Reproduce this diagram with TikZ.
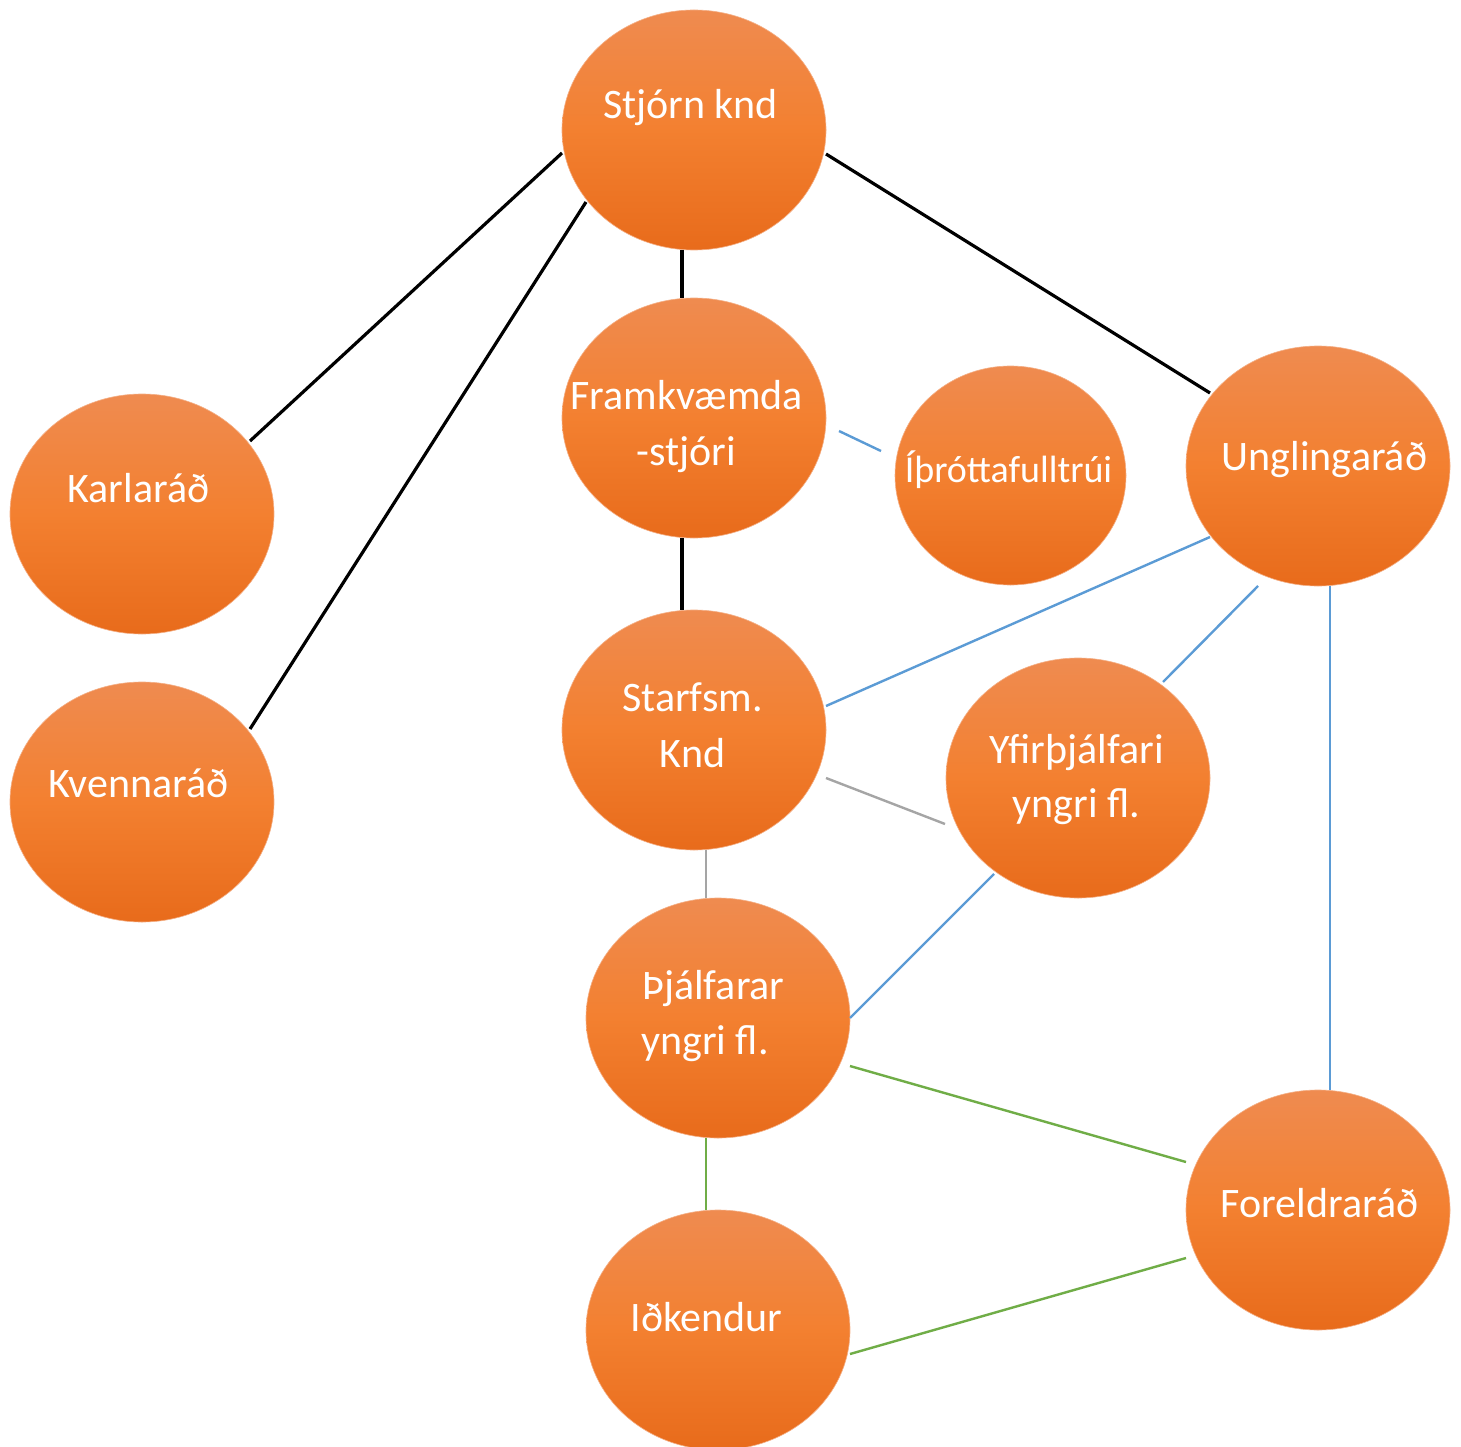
\documentclass[tikz,border=0pt]{standalone}
\usepackage{fontspec}
\setmainfont{Carlito}
\usetikzlibrary{calc,shapes.geometric}
\definecolor{otop}{RGB}{239,139,80}
\definecolor{omid}{RGB}{243,128,48}
\definecolor{obot}{RGB}{232,107,27}
\definecolor{lblue}{RGB}{91,155,213}
\definecolor{lgray}{RGB}{165,165,165}
\definecolor{lgreen}{RGB}{112,173,71}
\begin{document}
\begin{tikzpicture}[x=1pt,y=-1pt,
  bub/.style={ellipse, minimum width=264pt, minimum height=240pt, inner sep=0pt,
    top color=otop, bottom color=obot, middle color=omid, draw=otop!70!white, line width=0.6pt},
  smallbub/.style={minimum width=231pt, minimum height=219pt},
  txt/.style={anchor=base, text=white, font=\fontsize{42}{50}\selectfont, inner sep=0pt},
  blk/.style={line width=3.2pt, black},
  bl/.style={line width=2.4pt, lblue},
  gr/.style={line width=2.4pt, lgray},
  gn/.style={line width=2.4pt, lgreen}]
\useasboundingbox[fill=white] (0,0) rectangle (1461,1447);

% ellipses
\node[bub] (stjorn) at (694,130) {};
\node[bub] (framkv) at (694,418) {};
\node[bub,smallbub] (ithrott) at (1010.5,475.5) {};
\node[bub] (ungl) at (1318,466) {};
\node[bub] (karl) at (142,514) {};
\node[bub] (kvenna) at (142,802) {};
\node[bub] (starfsm) at (694,730) {};
\node[bub] (yfir) at (1078,778) {};
\node[bub] (thjalf) at (718,1018) {};
\node[bub] (foreldra) at (1318,1210) {};
\node[bub] (idk) at (718,1330) {};

% texts
\node[txt] (t1) at (690.5,119) {Stjórn knd};
\node[txt] (t2a) at (686.5,409) {Framkvæmda};
\node[txt] (t2b) at (686.5,465) {-stjóri};
\node[txt, font=\fontsize{38}{46}\selectfont] (t3) at (1008.5,482) {Íþróttafulltrúi};
\node[txt] (t4) at (1324.5,470) {Unglingaráð};
\node[txt] (t5) at (138.5,502) {Karlaráð};
\node[txt] (t6) at (138.5,797) {Kvennaráð};
\node[txt] (t7a) at (692.5,711) {Starfsm.};
\node[txt] (t7b) at (692.5,767) {Knd};
\node[txt] (t8a) at (1076.5,763) {Yfirþjálfari};
\node[txt] (t8b) at (1076.5,817) {yngri fl.};
\node[txt] (t9a) at (713.5,999) {Þjálfarar};
\node[txt] (t9b) at (705,1054) {yngri fl.};
\node[txt] (t10) at (1319.5,1217) {Foreldraráð};
\node[txt] (t11) at (706.5,1331) {Iðkendur};

% connectors
\draw[blk] ($(stjorn)+(-132,23)$) -- ($(karl)+(108,-73)$);
\draw[blk] ($(stjorn)+(-108,72)$) -- ($(kvenna)+(108,-73)$);
\draw[blk] ($(stjorn)+(-12,120)$) -- ($(framkv)+(-12,-120)$);
\draw[blk] ($(stjorn)+(132,24)$) -- ($(ungl)+(-108,-73)$);
\draw[blk] ($(framkv)+(-12,120)$) -- ($(starfsm)+(-12,-120)$);
\draw[bl] ($(framkv)+(145,13)$) -- ($(ithrott)+(-129.5,-24.5)$);
\draw[bl] ($(ungl)+(-108,71)$) -- ($(starfsm)+(132,-24)$);
\draw[bl] ($(ungl)+(-60,120)$) -- ($(yfir)+(85,-96)$);
\draw[bl] ($(ungl)+(12,120)$) -- ($(foreldra)+(12,-120)$);
\draw[gr] ($(starfsm)+(132,48)$) -- ($(yfir)+(-133,46)$);
\draw[gr] ($(starfsm)+(12,120)$) -- ($(thjalf)+(-12,-120)$);
\draw[bl] ($(yfir)+(-84,96)$) -- ($(thjalf)+(132,0)$);
\draw[gn] ($(thjalf)+(132,48)$) -- ($(foreldra)+(-132,-48)$);
\draw[gn] ($(thjalf)+(-12,120)$) -- ($(idk)+(-12,-120)$);
\draw[gn] ($(foreldra)+(-132,48)$) -- ($(idk)+(132,24)$);
\end{tikzpicture}
\end{document}
